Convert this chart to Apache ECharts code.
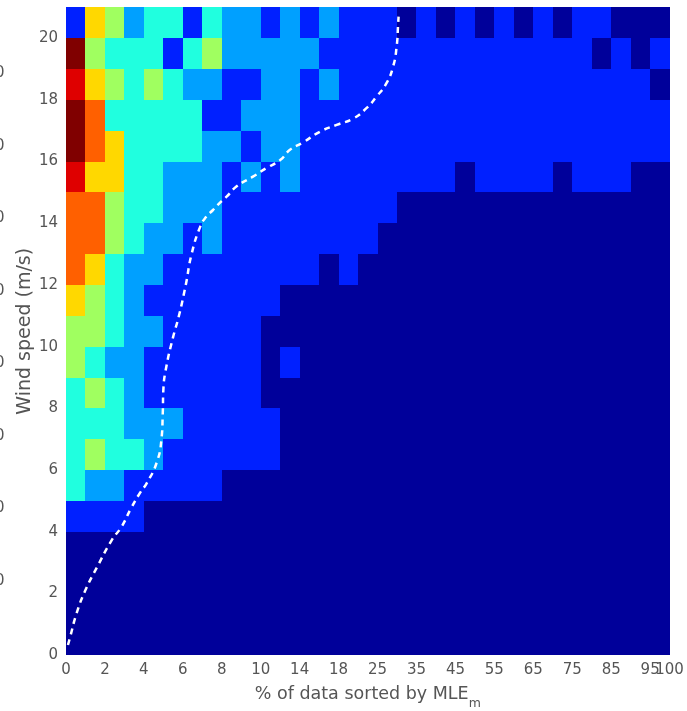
<!DOCTYPE html>
<html>
<head>
<meta charset="utf-8">
<script src="https://cdn.jsdelivr.net/npm/echarts@6/dist/echarts.min.js"></script>
<style>
  html, body { margin: 0; padding: 0; background: #ffffff; }
  #chart { width: 687px; height: 711px; }
</style>
</head>
<body>
<div id="chart"></div>
<script>
// Percent-of-data bin edges shown on the x axis (each tick spans two bins, last one spans one)
const xTickValues = [0, 2, 4, 6, 8, 10, 14, 18, 25, 35, 45, 55, 65, 75, 85, 95, 100];
const xTickLabels = ['0', '2', '4', '6', '8', '10', '14', '18', '25', '35', '45', '55', '65', '75', '85', '95', '100'];
const xTickBins = [0, 2, 4, 6, 8, 10, 12, 14, 16, 18, 20, 22, 24, 26, 28, 30, 31];

// Wind speed bins (m/s), lower edges, listed top to bottom to match the rows below
const speedBins = [20, 19, 18, 17, 16, 15, 14, 13, 12, 11, 10, 9, 8, 7, 6, 5, 4, 3, 2, 1, 0];
const speedTicks = [0, 2, 4, 6, 8, 10, 12, 14, 16, 18, 20];

// Jet colour classes, low to high density
const jetPalette = ['#00009a', '#0020ff', '#00a0ff', '#20ffdf', '#a0ff60', '#ffd800', '#ff6000', '#df0000', '#800000'];

// Density class per cell: one row per wind speed bin, one entry per percent bin
const densityRows = [
  [1,5,4,2,3,3,1,3,2,2,1,2,1,2,1,1,1,0,1,0,1,0,1,0,1,0,1,1,0,0,0],
  [8,4,3,3,3,1,3,4,2,2,2,2,2,1,1,1,1,1,1,1,1,1,1,1,1,1,1,0,1,0,1],
  [7,5,4,3,4,3,2,2,1,1,2,2,1,2,1,1,1,1,1,1,1,1,1,1,1,1,1,1,1,1,0],
  [8,6,3,3,3,3,3,1,1,2,2,2,1,1,1,1,1,1,1,1,1,1,1,1,1,1,1,1,1,1,1],
  [8,6,5,3,3,3,3,2,2,1,2,2,1,1,1,1,1,1,1,1,1,1,1,1,1,1,1,1,1,1,1],
  [7,5,5,3,3,2,2,2,1,2,1,2,1,1,1,1,1,1,1,1,0,1,1,1,1,0,1,1,1,0,0],
  [6,6,4,3,3,2,2,2,1,1,1,1,1,1,1,1,1,0,0,0,0,0,0,0,0,0,0,0,0,0,0],
  [6,6,4,3,2,2,1,2,1,1,1,1,1,1,1,1,0,0,0,0,0,0,0,0,0,0,0,0,0,0,0],
  [6,5,3,2,2,1,1,1,1,1,1,1,1,0,1,0,0,0,0,0,0,0,0,0,0,0,0,0,0,0,0],
  [5,4,3,2,1,1,1,1,1,1,1,0,0,0,0,0,0,0,0,0,0,0,0,0,0,0,0,0,0,0,0],
  [4,4,3,2,2,1,1,1,1,1,0,0,0,0,0,0,0,0,0,0,0,0,0,0,0,0,0,0,0,0,0],
  [4,3,2,2,1,1,1,1,1,1,0,1,0,0,0,0,0,0,0,0,0,0,0,0,0,0,0,0,0,0,0],
  [3,4,3,2,1,1,1,1,1,1,0,0,0,0,0,0,0,0,0,0,0,0,0,0,0,0,0,0,0,0,0],
  [3,3,3,2,2,2,1,1,1,1,1,0,0,0,0,0,0,0,0,0,0,0,0,0,0,0,0,0,0,0,0],
  [3,4,3,3,2,1,1,1,1,1,1,0,0,0,0,0,0,0,0,0,0,0,0,0,0,0,0,0,0,0,0],
  [3,2,2,1,1,1,1,1,0,0,0,0,0,0,0,0,0,0,0,0,0,0,0,0,0,0,0,0,0,0,0],
  [1,1,1,1,0,0,0,0,0,0,0,0,0,0,0,0,0,0,0,0,0,0,0,0,0,0,0,0,0,0,0],
  [0,0,0,0,0,0,0,0,0,0,0,0,0,0,0,0,0,0,0,0,0,0,0,0,0,0,0,0,0,0,0],
  [0,0,0,0,0,0,0,0,0,0,0,0,0,0,0,0,0,0,0,0,0,0,0,0,0,0,0,0,0,0,0],
  [0,0,0,0,0,0,0,0,0,0,0,0,0,0,0,0,0,0,0,0,0,0,0,0,0,0,0,0,0,0,0],
  [0,0,0,0,0,0,0,0,0,0,0,0,0,0,0,0,0,0,0,0,0,0,0,0,0,0,0,0,0,0,0]
];

// Dashed reference curve: percent of data vs wind speed (m/s)
const curvePercent = [0.1, 0.2, 0.55, 1.0, 1.6, 2.35, 2.85, 3.35, 3.8, 4.15, 4.65, 4.9, 4.97, 5.0, 5.15, 5.5, 5.8, 6.15, 6.45, 6.9, 7.2, 7.55, 7.9, 8.25, 8.75, 9.6, 10.6, 12.0, 13.0, 14.3, 16.1, 17.8, 20.7, 23.0, 24.8, 27.3, 29.0, 29.9, 30.3, 30.4];
const curveSpeed   = [0.33, 0.56, 1.37, 2.11, 2.86, 3.73, 4.16, 4.77, 5.26, 5.58, 6.23, 6.98, 7.85, 8.6, 9.34, 10.31, 11.0, 12.0, 13.0, 13.9, 14.21, 14.43, 14.66, 14.86, 15.19, 15.51, 15.79, 16.05, 16.38, 16.61, 16.97, 17.19, 17.4, 17.73, 18.1, 18.54, 19.08, 19.72, 20.48, 20.7];

// Map a percentage onto the bin axis, piecewise linear between tick edges
function percentToBin(p) {
  for (let k = 0; k < xTickValues.length - 1; k++) {
    const a = xTickValues[k], b = xTickValues[k + 1];
    if (p <= b || k === xTickValues.length - 2) {
      return xTickBins[k] + (p - a) / (b - a) * (xTickBins[k + 1] - xTickBins[k]);
    }
  }
  return 0;
}

const cells = [];
densityRows.forEach((row, r) => {
  row.forEach((lv, c) => cells.push([c, speedBins[r], lv]));
});
const curveData = curvePercent.map((p, i) => [percentToBin(p), curveSpeed[i]]);

const labelFont = 'DejaVu Sans';
const labelColor = '#555555';
const nBins = xTickBins[xTickBins.length - 1];

const chart = echarts.init(document.getElementById('chart'), null, { renderer: 'canvas' });

chart.setOption({
  animation: false,
  backgroundColor: '#ffffff',
  grid: { left: 66, right: 17.4, top: 7.3, bottom: 55.8, outerBoundsMode: 'none', containLabel: false },
  xAxis: [
    {
      type: 'value', min: 0, max: nBins, interval: 2,
      axisLine: { show: false }, axisTick: { show: false }, splitLine: { show: false },
      axisLabel: {
        showMinLabel: true, showMaxLabel: false,
        margin: 7, fontFamily: labelFont, fontSize: 15, color: labelColor,
        formatter: v => { const i = xTickBins.indexOf(v); return (i >= 0 && v < nBins) ? xTickLabels[i] : ''; }
      },
      name: '% of data sorted by MLE{sub|m}',
      nameLocation: 'middle', nameGap: 23, nameMoveOverlap: false,
      nameTextStyle: {
        fontFamily: labelFont, fontSize: 17.5, color: labelColor,
        rich: { sub: { fontFamily: labelFont, fontSize: 12.5, color: labelColor, padding: [19, 0, 0, 0] } }
      }
    },
    {
      // second bottom axis only carries the closing "100" label
      type: 'value', min: 0, max: nBins, interval: nBins, position: 'bottom', offset: 0,
      axisLine: { show: false }, axisTick: { show: false }, splitLine: { show: false },
      axisLabel: {
        showMinLabel: true, showMaxLabel: true,
        margin: 7, fontFamily: labelFont, fontSize: 15, color: labelColor,
        formatter: v => (v === nBins ? xTickLabels[xTickLabels.length - 1] : '')
      }
    }
  ],
  yAxis: {
    type: 'value', min: 0, max: 21, interval: 2,
    axisLine: { show: false }, axisTick: { show: false }, splitLine: { show: false },
    axisLabel: {
      margin: 8, fontFamily: labelFont, fontSize: 15, color: labelColor,
      formatter: v => (speedTicks.indexOf(v) >= 0 ? String(v) : '')
    },
    name: 'Wind speed (m/s)',
    nameLocation: 'middle', nameGap: 31, nameMoveOverlap: false,
    nameTextStyle: { fontFamily: labelFont, fontSize: 19, color: labelColor }
  },
  graphic: [75, 148, 220, 293, 365, 438, 510, 583].map(y => ({
    type: 'text', left: -5, top: y - 9,
    style: { text: '0', font: '15px DejaVu Sans', fill: labelColor }
  })),
  series: [
    {
      type: 'custom',
      xAxisIndex: 0, yAxisIndex: 0,
      encode: { x: 0, y: 1 },
      data: cells,
      renderItem: (params, api) => {
        const c = api.value(0), s = api.value(1), lv = api.value(2);
        const p0 = api.coord([c, s + 1]);
        const p1 = api.coord([c + 1, s]);
        const x0 = Math.round(p0[0]), y0 = Math.round(p0[1]);
        const x1 = Math.round(p1[0]), y1 = Math.round(p1[1]);
        return {
          type: 'rect',
          shape: { x: x0, y: y0, width: x1 - x0, height: y1 - y0 },
          style: { fill: jetPalette[lv] }
        };
      },
      silent: true
    },
    {
      type: 'line',
      xAxisIndex: 0, yAxisIndex: 0,
      data: curveData,
      smooth: 0.5,
      showSymbol: false,
      lineStyle: { color: '#ffffff', width: 2.5, type: [6, 5] },
      z: 5,
      silent: true
    }
  ]
});
</script>
</body>
</html>
